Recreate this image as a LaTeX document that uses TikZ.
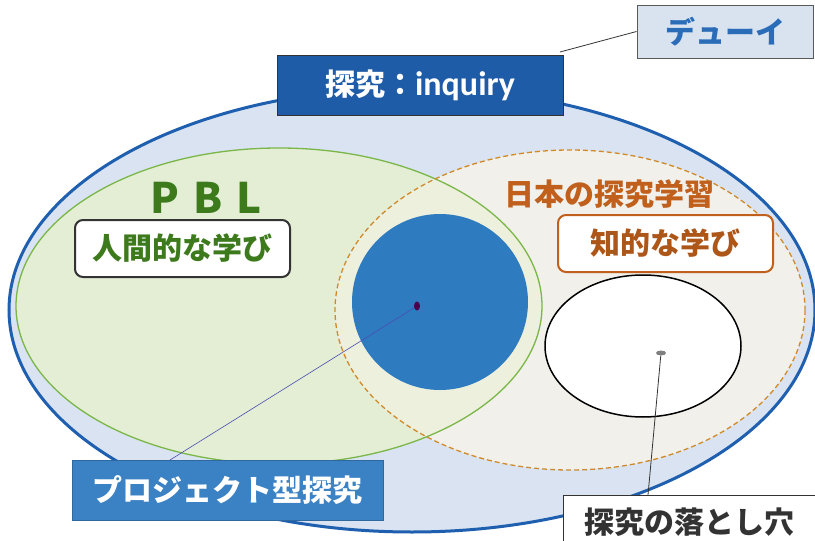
\documentclass[tikz,border=0pt]{standalone}
\usepackage{fontspec}
\usetikzlibrary{shapes.geometric}
\setmainfont{Noto Sans CJK JP}
\newfontfamily\latinf{Carlito}
\definecolor{outerfill}{HTML}{D9E3F1}
\definecolor{outerline}{HTML}{1F5FB0}
\definecolor{greenfill}{HTML}{E3EED5}
\definecolor{greenline}{HTML}{7AB648}
\definecolor{orangefill}{HTML}{F1F0EA}
\definecolor{orangeline}{HTML}{D08A2A}
\definecolor{capfill}{HTML}{EEF0DE}
\definecolor{circblue}{HTML}{2E7BC0}
\definecolor{inqblue}{HTML}{1E5CA8}
\definecolor{projblue}{HTML}{3B82C4}
\definecolor{deweyfill}{HTML}{D9E3F0}
\definecolor{deweytext}{HTML}{2B6CB8}
\definecolor{pblgreen}{HTML}{3D7A1C}
\definecolor{jpbrown}{HTML}{C0601C}
\definecolor{darkgray}{HTML}{333333}
\tikzset{
  jtext/.style={font=\bfseries\fontsize{30}{30}\selectfont, inner sep=0pt},
  sqbox/.style={draw=darkgray, line width=1pt, inner sep=0pt},
  rbox/.style={draw=#1, fill=white, line width=2pt, rounded corners=8pt, inner sep=0pt,
               minimum width=215pt, minimum height=57pt},
}
\begin{document}
\begin{tikzpicture}[x=1pt,y=-1pt]
\useasboundingbox (0,0) rectangle (815,541);
\fill[white] (0,0) rectangle (815,541);
\begin{scope}
\clip (0,0) rectangle (815,541);
% outer ellipse
\fill[outerfill] (412,310) ellipse [x radius=403, y radius=222];
% green and orange ellipses
\fill[greenfill] (279,306) ellipse [x radius=263, y radius=158];
\fill[orangefill] (570,310) ellipse [x radius=235, y radius=160];
\begin{scope}
\clip (279,306) ellipse [x radius=263, y radius=158];
\fill[capfill] (570,310) ellipse [x radius=235, y radius=160];
\end{scope}
\draw[greenline, line width=1.3pt] (279,306) ellipse [x radius=263, y radius=158];
\draw[orangeline, line width=1.3pt, dash pattern=on 5pt off 3pt] (570,310) ellipse [x radius=235, y radius=160];
\draw[outerline, line width=3pt] (412,310) ellipse [x radius=403, y radius=222];
% blue circle and hole
\fill[circblue] (440,302) circle [radius=88];
\draw[black, line width=1.5pt, fill=white] (643,346) ellipse [x radius=98, y radius=71];
\end{scope}
% dots
\node[fill=violet!60!black, ellipse, minimum width=6pt, minimum height=9pt, inner sep=0pt] (dotA) at (417,306) {};
\node[fill=gray, ellipse, minimum width=10pt, minimum height=5pt, inner sep=0pt] (dotB) at (661,353) {};
% boxes
\node[sqbox, fill=inqblue, minimum width=286pt, minimum height=60pt, text=white, jtext] (inq) at (420,85)
  {探究：{\latinf\bfseries\fontsize{34}{34}\selectfont inquiry}};
\node[sqbox, fill=deweyfill, draw=gray!70!black, minimum width=176pt, minimum height=53pt, text=deweytext, jtext] (dewey) at (725,31.5) {デューイ};
\node[jtext, text=pblgreen, font=\bfseries\fontsize{42}{42}\selectfont] (pbl) at (206,198) {P\hspace{14pt}B\hspace{14pt}L};
\node[rbox=darkgray, text=pblgreen, jtext] (ningen) at (182.5,248.5) {人間的な学び};
\node[jtext, text=jpbrown] (nihon) at (609,194) {日本の探究学習};
\node[rbox=jpbrown, text=jpbrown!90!black, jtext] (chiteki) at (665.5,243.5) {知的な学び};
\node[sqbox, fill=projblue, draw=projblue!80!black, minimum width=311pt, minimum height=60pt, text=white, jtext] (proj) at (227.5,490) {プロジェクト型探究};
\node[sqbox, fill=white, minimum width=272pt, minimum height=54pt, anchor=north west, text=darkgray, jtext] (otoshi) at (563,495) {\hspace{-20pt}探究の落とし穴};
% connectors
\coordinate (projtop) at (170,460);
\coordinate (otoshitop) at (648,495);
\coordinate (inqcorner) at (560,52);
\draw[gray!60!blue, line width=0.6pt] (dotA) -- (projtop);
\draw[darkgray, line width=0.8pt] (dotB) -- (otoshitop);
\draw[darkgray, line width=0.8pt] (dewey.west) -- (inqcorner);
\end{tikzpicture}
\end{document}
